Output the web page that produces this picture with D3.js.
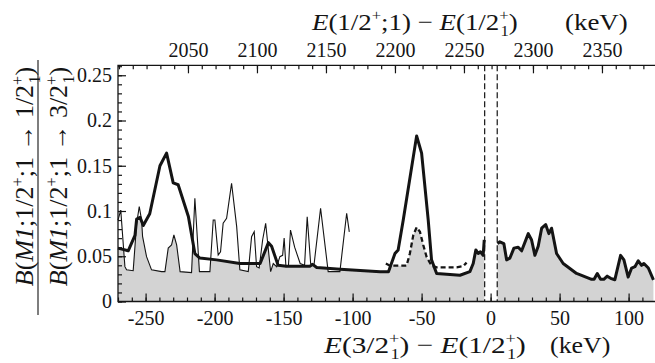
<!DOCTYPE html>
<html>
<head>
<meta charset="utf-8">
<script src="https://cdn.jsdelivr.net/npm/d3@7.9.0/dist/d3.min.js"></script>
<style>
  body { margin: 0; background: #fff; }
  svg { display: block; }
  svg text { font-family: "Liberation Serif", "Times New Roman", serif; }
</style>
</head>
<body>
<svg width="655" height="363"></svg>
<script>
// ---- data (keV, ratio) ----
const thickLeftX = [-270, -262.6, -257.7, -256.5, -254, -251.7, -247, -239.6, -234.8, -230, -226.4, -219, -214.3, -210.7, -198.6, -181.7, -167, -161, -158.7, -154, -148, -131, -129, -126, -109, -80, -74, -69.3, -67, -63.3, -53.6, -50, -45.2, -42.8, -39.1, -22.2, -15, -12.6, -10.7, -9, -7.4, -5.4, -4.6];
const thickLeftY = [0.059, 0.056, 0.073, 0.091, 0.093, 0.084, 0.097, 0.150, 0.164, 0.131, 0.129, 0.094, 0.053, 0.048, 0.046, 0.042, 0.042, 0.065, 0.061, 0.040, 0.039, 0.039, 0.041, 0.0375, 0.0356, 0.033, 0.033, 0.053, 0.057, 0.090, 0.183, 0.164, 0.090, 0.046, 0.031, 0.029, 0.033, 0.042, 0.057, 0.053, 0.055, 0.051, 0.068];

const thickRightX = [5, 6.7, 9.6, 11.6, 14, 16.9, 20, 22.5, 27.3, 29.7, 32.1, 34.5, 37, 39.9, 42.2, 44.2, 47.8, 52.6, 62.3, 73.2, 75, 77.3, 79.7, 82, 84.5, 87, 90, 94.2, 96.6, 99.7, 102.2, 104.6, 107, 109.4, 111.1, 114.3, 118];
const thickRightY = [0.064, 0.066, 0.064, 0.046, 0.048, 0.059, 0.060, 0.056, 0.075, 0.068, 0.051, 0.061, 0.081, 0.085, 0.075, 0.081, 0.053, 0.042, 0.031, 0.0245, 0.0245, 0.031, 0.0245, 0.0245, 0.028, 0.0256, 0.024, 0.051, 0.046, 0.027, 0.037, 0.0385, 0.045, 0.040, 0.042, 0.037, 0.024];

const thinX = [-270, -268, -265, -263.8, -259, -256.5, -254.6, -252.9, -252.2, -249.3, -245.7, -238.4, -236, -233.6, -231.2, -229.5, -227.5, -225, -216.7, -214.3, -211, -203.4, -201, -199.8, -197.4, -195.7, -193.8, -191.3, -187.7, -184, -181.7, -175.6, -173.2, -171.3, -169.6, -167.7, -165.2, -163, -159.4, -157.5, -155, -152.7, -150.7, -149.6, -148.3, -146.5, -145, -142, -138, -134.8, -132.9, -130.4, -128, -123.2, -117.7, -109.2, -104.3, -102.4];
const thinY = [0.09, 0.101, 0.0385, 0.035, 0.034, 0.086, 0.105, 0.09, 0.072, 0.0495, 0.035, 0.033, 0.033, 0.059, 0.0625, 0.0735, 0.0625, 0.033, 0.032, 0.114, 0.033, 0.033, 0.09, 0.09, 0.0514, 0.055, 0.0864, 0.092, 0.1306, 0.0827, 0.035, 0.033, 0.0716, 0.077, 0.0385, 0.037, 0.068, 0.0864, 0.033, 0.042, 0.0385, 0.0495, 0.051, 0.07, 0.0385, 0.039, 0.079, 0.06, 0.042, 0.04, 0.0937, 0.042, 0.04, 0.103, 0.033, 0.033, 0.0975, 0.077];

const dashX = [-75.9, -73, -60.9, -58.5, -56, -53.6, -51.2, -48.8, -46.4, -42.8, -39.1, -24.6, -19.9, -17.4];
const dashY = [0.042, 0.0396, 0.0396, 0.053, 0.0735, 0.082, 0.077, 0.0624, 0.0495, 0.0396, 0.0378, 0.0378, 0.039, 0.043];

const gapEdges = [-4.3, 4.8];
const bottomTicks = [-250, -200, -150, -100, -50, 0, 50, 100];
const topTicks = [2050, 2100, 2150, 2200, 2250, 2300, 2350];
const yTicks = [0, 0.05, 0.1, 0.15, 0.2, 0.25];
const topShift = 2269.3;   // top axis = bottom axis + shift

// ---- scales ----
const svg = d3.select('svg');
const ink = '#141414';
const serif = '"Liberation Serif", "Times New Roman", serif';
const x = d3.scaleLinear().domain([-270, 120]).range([118, 656.2]);
const xTop = d3.scaleLinear().domain([-270 + topShift, 120 + topShift]).range(x.range());
const y = d3.scaleLinear().domain([0, 0.261]).range([301.5, 65.3]);

const zip = (xs, ys) => xs.map((v, i) => [v, ys[i]]);
const line = d3.line().x(d => x(d[0])).y(d => y(d[1]));

// linear lookup, Infinity outside the series
function lookup(xs, ys) {
  return v => {
    if (v < xs[0] || v > xs[xs.length - 1]) return Infinity;
    let i = Math.min(Math.max(1, d3.bisectLeft(xs, v)), xs.length - 1);
    const t = (v - xs[i - 1]) / (xs[i] - xs[i - 1]);
    return ys[i - 1] + t * (ys[i] - ys[i - 1]);
  };
}

// shaded region = lowest of the curves present
const fThick = lookup(thickLeftX, thickLeftY);
const fThin = lookup(thinX, thinY);
const fDash = lookup(dashX, dashY);
const grid = d3.range(thickLeftX[0], thickLeftX[thickLeftX.length - 1], 0.1).concat([thickLeftX[thickLeftX.length - 1]]);
const shadeLeft = grid.map(v => [v, Math.min(fThick(v), fThin(v), fDash(v))]);
const shadeRight = zip(thickRightX, thickRightY);

const area = d3.area().x(d => x(d[0])).y0(y(0)).y1(d => y(d[1]));
[shadeLeft, shadeRight].forEach(s => {
  svg.append('path').attr('d', area(s)).attr('fill', '#d3d3d3');
});

// vertical dashed markers
gapEdges.forEach(g => {
  svg.append('line')
    .attr('x1', x(g)).attr('x2', x(g))
    .attr('y1', y.range()[1]).attr('y2', y(0))
    .attr('stroke', ink).attr('stroke-width', 1.2)
    .attr('stroke-dasharray', '6,3');
});

svg.append('path').attr('d', line(zip(thinX, thinY)))
  .attr('fill', 'none').attr('stroke', ink).attr('stroke-width', 1.1);
svg.append('path').attr('d', line(zip(dashX, dashY)))
  .attr('fill', 'none').attr('stroke', ink).attr('stroke-width', 2.3)
  .attr('stroke-dasharray', '5,3');
[zip(thickLeftX, thickLeftY), zip(thickRightX, thickRightY)].forEach(s => {
  svg.append('path').attr('d', line(s))
    .attr('fill', 'none').attr('stroke', ink).attr('stroke-width', 3)
    .attr('stroke-linejoin', 'round');
});

// ---- axes ----
const fs = 20;
function styleAxis(g) {
  g.select('.domain').remove();
  g.attr('font-family', serif).attr('font-size', fs);
  g.selectAll('line').attr('stroke', ink).attr('stroke-width', 1.2);
  g.selectAll('text').attr('fill', ink);
}
const fmtX = d => String(d).replace('\u2212', '-');

svg.append('g').attr('transform', `translate(0,${y(0)})`)
  .call(d3.axisBottom(x).tickValues(bottomTicks).tickSize(-8).tickPadding(9).tickFormat(fmtX))
  .call(styleAxis);
svg.append('g').attr('transform', `translate(0,${y(0)})`)
  .call(d3.axisBottom(x).tickValues(d3.range(-270, 121, 10)).tickSize(-4).tickFormat(''))
  .call(styleAxis);

svg.append('g').attr('transform', `translate(0,${y.range()[1]})`)
  .call(d3.axisTop(xTop).tickValues(topTicks).tickSize(-8).tickPadding(8).tickFormat(d3.format('d')))
  .call(styleAxis);
svg.append('g').attr('transform', `translate(0,${y.range()[1]})`)
  .call(d3.axisTop(xTop).tickValues(d3.range(2000, 2390, 10)).tickSize(-4).tickFormat(''))
  .call(styleAxis);

svg.append('g').attr('transform', `translate(${x(-270)},0)`)
  .call(d3.axisLeft(y).tickValues(yTicks).tickSize(-8).tickPadding(6).tickFormat(d => String(+d.toFixed(2))))
  .call(styleAxis);
svg.append('g').attr('transform', `translate(${x(-270)},0)`)
  .call(d3.axisLeft(y).tickValues(d3.range(0, 0.2605, 0.01)).tickSize(-4).tickFormat(''))
  .call(styleAxis);

// frame (left, top, bottom)
svg.append('path')
  .attr('d', `M${x.range()[1]},${y.range()[1]}H${x(-270)}V${y(0)}H${x.range()[1]}`)
  .attr('fill', 'none').attr('stroke', ink).attr('stroke-width', 1.3);

// ---- titles ----
function rich(g, parts, size) {
  const t = g.append('text').attr('font-size', size).attr('fill', ink).attr('font-family', serif);
  let shift = 0;
  parts.forEach(p => {
    const ts = t.append('tspan').text(p.t);
    let target = 0, s = size;
    if (p.sup) { target = -0.4 * size; s = 0.62 * size; }
    if (p.sub) { target = 0.25 * size; s = 0.62 * size; }
    if (target !== shift) ts.attr('dy', target - shift);
    if (s !== size) ts.attr('font-size', s);
    if (p.back) ts.attr('dx', -0.3 * size);
    if (p.it) ts.attr('font-style', 'italic');
    shift = target;
  });
  return t;
}

const tsz = 24;
const topTitle = svg.append('g').attr('transform', 'translate(312,30) scale(1.12,1)');
rich(topTitle, [{t: 'E', it: 1}, {t: '(1/2'}, {t: '+', sup: 1}, {t: ';1) \u2212 '}, {t: 'E', it: 1},
  {t: '(1/2'}, {t: '+', sup: 1}, {t: '1', sub: 1, back: 1}, {t: ')'}], tsz);
svg.append('g').attr('transform', 'translate(565,30) scale(1.12,1)')
  .append('text').attr('font-size', tsz).attr('font-family', serif).attr('fill', ink).text('(keV)');

const botTitle = svg.append('g').attr('transform', 'translate(324,353) scale(1.22,1)');
rich(botTitle, [{t: 'E', it: 1}, {t: '(3/2'}, {t: '+', sup: 1}, {t: '1', sub: 1, back: 1}, {t: ') \u2212 '}, {t: 'E', it: 1},
  {t: '(1/2'}, {t: '+', sup: 1}, {t: '1', sub: 1, back: 1}, {t: ')'}], tsz);
svg.append('g').attr('transform', 'translate(550,353) scale(1.08,1)')
  .append('text').attr('font-size', tsz).attr('font-family', serif).attr('fill', ink).text('(keV)');

// y title as a fraction, rotated
const yt = svg.append('g').attr('transform', 'translate(0,176.5) rotate(-90)');
const ysz = 26;
rich(yt, [{t: 'B', it: 1}, {t: '('}, {t: 'M1', it: 1}, {t: ';1/2'}, {t: '+', sup: 1}, {t: ';1 \u2192 1/2'},
  {t: '+', sup: 1}, {t: '1', sub: 1, back: 1}, {t: ')'}], ysz)
  .attr('text-anchor', 'middle').attr('y', 33);
rich(yt, [{t: 'B', it: 1}, {t: '('}, {t: 'M1', it: 1}, {t: ';1/2'}, {t: '+', sup: 1}, {t: ';1 \u2192 3/2'},
  {t: '+', sup: 1}, {t: '1', sub: 1, back: 1}, {t: ')'}], ysz)
  .attr('text-anchor', 'middle').attr('y', 67);
yt.append('line').attr('x1', -138.5).attr('x2', 116.5).attr('y1', 38).attr('y2', 38)
  .attr('stroke', ink).attr('stroke-width', 1.1);
</script>
</body>
</html>
